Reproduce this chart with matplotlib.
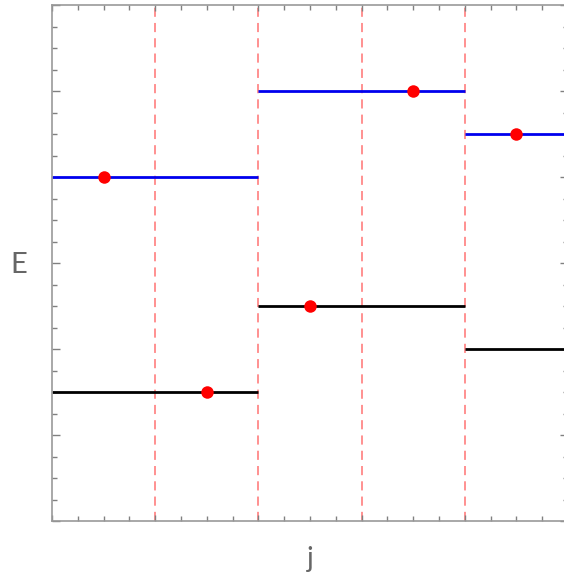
import numpy as np
import matplotlib.pyplot as plt
from matplotlib.ticker import MultipleLocator

# band levels per cell (x from left edge to right edge of each cell)
cell_x0 = [0, 2, 4]
cell_x1 = [2, 4, 5]
lower_band = [1.5, 2.5, 2.0]
upper_band = [4.0, 5.0, 4.5]

# marked points
dot_x = [0.5, 1.5, 2.5, 3.5, 4.5]
dot_y = [4.0, 1.5, 2.5, 5.0, 4.5]

# cell boundaries
boundaries = [1, 2, 3, 4]

gray = '#808080'

fig = plt.figure(figsize=(5.64, 5.76), dpi=100)
# frame runs slightly past the right edge of the canvas
ax = fig.add_axes([52/564, 55/576, 516/564, 516/576])

for xb in boundaries:
    ax.axvline(xb, color=(1, 0, 0, 0.55), lw=1.1, ls=(0, (6, 4)), zorder=1)

for x0, x1, lo, up in zip(cell_x0, cell_x1, lower_band, upper_band):
    ax.plot([x0, x1], [lo, lo], color='black', lw=2, solid_capstyle='butt', zorder=2)
    ax.plot([x0, x1], [up, up], color='#0000ee', lw=2, solid_capstyle='butt', zorder=2)

ax.plot(dot_x, dot_y, 'o', color='red', ms=9, mec='none', zorder=3)

ax.set_xlim(0, 5)
ax.set_ylim(0, 6)

ax.xaxis.set_major_locator(MultipleLocator(1))
ax.xaxis.set_minor_locator(MultipleLocator(0.25))
ax.yaxis.set_major_locator(MultipleLocator(1))
ax.yaxis.set_minor_locator(MultipleLocator(0.25))
ax.tick_params(which='both', direction='in', top=True, right=True,
               labelbottom=False, labelleft=False, color=gray, width=1)
ax.tick_params(which='major', axis='y', length=6)
ax.tick_params(which='major', axis='x', length=4)
ax.tick_params(which='minor', length=3.5)

for s in ax.spines.values():
    s.set_color('#999999')
    s.set_linewidth(1.2)

ax.set_xlabel('j', fontsize=20, color='#666666', family='Lato', labelpad=18)
ax.set_ylabel('E', fontsize=21, color='#666666', family='Lato', rotation=0,
              labelpad=25, va='center')
ax.yaxis.set_label_coords(-0.065, 0.497)

fig.savefig('out.png', dpi=100)
